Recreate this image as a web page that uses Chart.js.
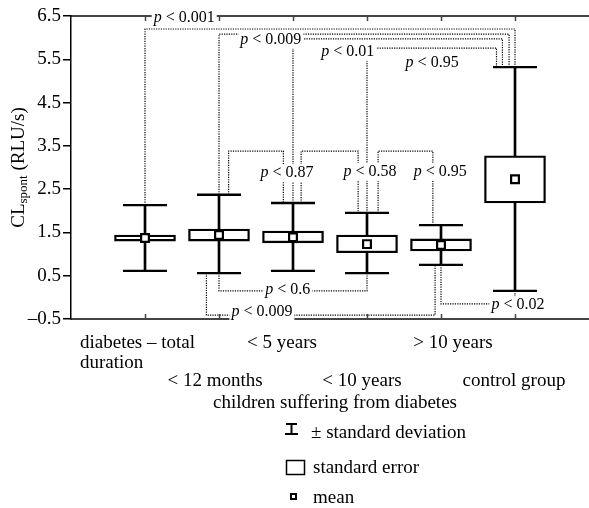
<!DOCTYPE html>
<html>
<head>
<meta charset="utf-8">
<script src="https://cdn.jsdelivr.net/npm/chart.js@4.4.1/dist/chart.umd.min.js"></script>
<style>
  html, body { margin: 0; padding: 0; background: #fff; }
</style>
</head>
<body>
<canvas id="chart" width="589" height="508"></canvas>
<script>
// group labels (first one wraps on two lines)
var groups = [['diabetes – total', 'duration'], ['< 12 months'], ['< 5 years'], ['< 10 years'], ['> 10 years'], ['control group']];
var groupTitle = 'children suffering from diabetes';

// CL spont (RLU/s)
var means  = [1.37, 1.44, 1.39, 1.23, 1.21, 2.73];
var seLow  = [1.30, 1.30, 1.26, 1.03, 1.07, 2.18];
var seHigh = [1.44, 1.58, 1.53, 1.44, 1.35, 3.27];
var sdLow  = [0.61, 0.56, 0.61, 0.56, 0.75, 0.15];
var sdHigh = [2.13, 2.37, 2.18, 1.95, 1.67, 5.32];

var yTicks = [-0.5, 0.5, 1.5, 2.5, 3.5, 4.5, 5.5, 6.5];
var yTickLabels = ['–0.5', '0.5', '1.5', '2.5', '3.5', '4.5', '5.5', '6.5'];

// significance brackets: from group, to group, bracket level, side
var bracketFrom  = [0, 1, 2, 3, 1, 2, 3, 1, 1, 4];
var bracketTo    = [5, 5, 5, 5, 2, 3, 4, 3, 4, 5];
var bracketLevel = [6.20, 6.08, 5.97, 5.76, 3.38, 3.38, 3.38, 0.15, -0.41, -0.15];
var bracketSide  = ['top', 'top', 'top', 'top', 'top', 'top', 'top', 'bottom', 'bottom', 'bottom'];
var pValues = ['p < 0.001', 'p < 0.009', 'p < 0.01', 'p < 0.95', 'p < 0.87', 'p < 0.58', 'p < 0.95', 'p < 0.6', 'p < 0.009', 'p < 0.02'];

var serif = '"Liberation Serif", "Times New Roman", serif';

// where each bracket leg leaves its group (offset from group centre, in group units)
var legShiftFrom = [0, 0, 0, 0, 0.13, 0.11, 0.15, 0, -0.17, 0];
var legShiftTo   = [0, -0.08, -0.17, -0.25, -0.13, -0.12, -0.11, 0, -0.08, 0];
// p label anchors (x in group units, y in data units)
var pAt = [[1.53, 6.45], [2.70, 5.95], [3.74, 5.67], [4.88, 5.41], [2.92, 2.87],
           [4.04, 2.90], [4.99, 2.90], [2.93, 0.17], [2.58, -0.34], [6.04, -0.18]];

var datasets = [];

// dotted brackets
bracketFrom.forEach(function (a, k) {
  var b = bracketTo[k];
  var edge = bracketSide[k] === 'top' ? sdHigh : sdLow;
  var xa = a + 1 + legShiftFrom[k], xb = b + 1 + legShiftTo[k];
  datasets.push({
    type: 'line',
    data: [{x: xa, y: edge[a]}, {x: xa, y: bracketLevel[k]}, {x: xb, y: bracketLevel[k]}, {x: xb, y: edge[b]}],
    borderColor: '#000',
    borderWidth: 1.2,
    borderDash: [1.2, 1.2],
    pointRadius: 0,
    fill: false,
    tension: 0,
    order: 9
  });
});

// SD whisker stem
datasets.push({
  type: 'bar',
  data: groups.map(function (g, i) { return {x: i + 1, y: [sdLow[i], sdHigh[i]]}; }),
  backgroundColor: '#000',
  barThickness: 2,
  grouped: false,
  order: 6
});

// SE box
datasets.push({
  type: 'bar',
  data: groups.map(function (g, i) { return {x: i + 1, y: [seLow[i], seHigh[i]]}; }),
  backgroundColor: '#fff',
  borderColor: '#000',
  borderWidth: 2.3,
  borderSkipped: false,
  barThickness: 61,
  grouped: false,
  order: 4
});

// SD caps
datasets.push({
  type: 'line',
  showLine: false,
  data: groups.map(function (g, i) { return {x: i + 1, y: sdLow[i]}; })
    .concat(groups.map(function (g, i) { return {x: i + 1, y: sdHigh[i]}; })),
  pointStyle: 'line',
  pointRadius: 22,
  borderColor: '#000',
  borderWidth: 2.3,
  order: 5
});

// mean
datasets.push({
  type: 'line',
  showLine: false,
  data: groups.map(function (g, i) { return {x: i + 1, y: means[i]}; }),
  pointStyle: 'rect',
  pointRadius: 5.5,
  backgroundColor: '#fff',
  borderColor: '#000',
  borderWidth: 2.2,
  order: 1
});

function drawP(ctx, text, cx, cy, mask) {
  var rest = text.slice(1);
  ctx.font = 'italic 16px ' + serif;
  var w1 = ctx.measureText('p').width;
  ctx.font = '16px ' + serif;
  var w = w1 + ctx.measureText(rest).width;
  var x0 = cx - w / 2;
  if (mask) {
    ctx.fillStyle = '#fff';
    ctx.fillRect(x0 - 2, cy - 9, w + 4, 18);
  }
  ctx.fillStyle = '#000';
  ctx.textAlign = 'left';
  ctx.textBaseline = 'middle';
  ctx.font = 'italic 16px ' + serif;
  ctx.fillText('p', x0, cy);
  ctx.font = '16px ' + serif;
  ctx.fillText(rest, x0 + w1, cy);
}

var decor = {
  id: 'decor',
  afterDatasetsDraw: function (chart) {
    var ctx = chart.ctx, xs = chart.scales.x, ys = chart.scales.y, area = chart.chartArea;
    ctx.save();
    // inner ticks on top and bottom frame
    ctx.strokeStyle = '#444';
    ctx.lineWidth = 1.5;
    groups.forEach(function (g, i) {
      var px = Math.round(xs.getPixelForValue(i + 1)) + 0.5;
      ctx.beginPath();
      ctx.moveTo(px, area.top); ctx.lineTo(px, area.top + 5);
      ctx.moveTo(px, area.bottom); ctx.lineTo(px, area.bottom - 5);
      ctx.stroke();
    });
    pValues.forEach(function (t, k) {
      drawP(ctx, t, xs.getPixelForValue(pAt[k][0]), ys.getPixelForValue(pAt[k][1]), true);
    });
    ctx.restore();
  },
  afterDraw: function (chart) {
    var ctx = chart.ctx, xs = chart.scales.x, area = chart.chartArea;
    ctx.save();
    ctx.fillStyle = '#000';
    ctx.font = '19px ' + serif;
    ctx.textBaseline = 'middle';

    // category labels, staggered in two rows
    var shift = [-65, -4, -11, -5, 12, -1];
    groups.forEach(function (lines, i) {
      var px = xs.getPixelForValue(i + 1) + shift[i];
      var row = i % 2 === 0 ? 343 : 381;
      ctx.textAlign = i === 0 ? 'left' : 'center';
      lines.forEach(function (l, j) { ctx.fillText(l, px, row + j * 20); });
    });
    ctx.textAlign = 'center';
    ctx.fillText(groupTitle, (xs.getPixelForValue(2) + xs.getPixelForValue(5)) / 2 + 5, 403);

    // y axis title with subscript
    ctx.save();
    ctx.translate(19, (area.top + area.bottom) / 2);
    ctx.rotate(-Math.PI / 2);
    ctx.textAlign = 'left';
    ctx.font = '19px ' + serif;
    var wCL = ctx.measureText('CL').width, wRest = ctx.measureText(' (RLU/s)').width;
    ctx.font = '13px ' + serif;
    var wSub = ctx.measureText('spont').width;
    var x0 = -(wCL + wSub + wRest) / 2;
    ctx.font = '19px ' + serif;
    ctx.fillText('CL', x0, 0);
    ctx.font = '13px ' + serif;
    ctx.fillText('spont', x0 + wCL, 5);
    ctx.font = '19px ' + serif;
    ctx.fillText(' (RLU/s)', x0 + wCL + wSub, 0);
    ctx.restore();

    // legend
    ctx.strokeStyle = '#000';
    ctx.lineWidth = 2;
    ctx.beginPath();
    ctx.moveTo(286, 424); ctx.lineTo(297, 424);
    ctx.moveTo(291.5, 424); ctx.lineTo(291.5, 434);
    ctx.moveTo(285, 434); ctx.lineTo(298, 434);
    ctx.stroke();
    ctx.lineWidth = 1.5;
    ctx.strokeRect(286.5, 460.5, 18, 14);
    ctx.lineWidth = 2;
    ctx.strokeRect(291, 494, 5, 5);
    ctx.textAlign = 'left';
    ctx.font = '19px ' + serif;
    ctx.fillText('± standard deviation', 311, 433);
    ctx.fillText('standard error', 313, 468);
    ctx.fillText('mean', 313, 498);
    ctx.restore();
  }
};

new Chart(document.getElementById('chart').getContext('2d'), {
  type: 'bar',
  data: { datasets: datasets },
  options: {
    responsive: false,
    animation: false,
    events: [],
    layout: { padding: 0, autoPadding: false },
    plugins: { legend: { display: false }, tooltip: { enabled: false } },
    scales: {
      x: {
        type: 'linear', position: 'bottom', min: 0, max: 7, offset: false,
        ticks: { display: false },
        grid: { display: false, offset: false },
        border: { display: true, color: '#444', width: 2 },
        afterFit: function (s) { s.height = 189; }
      },
      xTop: {
        type: 'linear', position: 'top', min: 0, max: 7, offset: false,
        ticks: { display: false },
        grid: { display: false },
        border: { display: true, color: '#444', width: 2 },
        afterFit: function (s) { s.height = 16; }
      },
      y: {
        min: -0.5, max: 6.5,
        afterBuildTicks: function (s) { s.ticks = yTicks.map(function (v) { return {value: v}; }); },
        ticks: {
          color: '#000', padding: 2,
          font: { family: serif, size: 19 },
          callback: function (v, i) { return yTickLabels[i]; }
        },
        grid: { drawOnChartArea: false, tickLength: 8, color: '#000', lineWidth: 1.5 },
        border: { display: true, color: '#000', width: 1.5 },
        afterFit: function (s) { s.width = 71; }
      }
    }
  },
  plugins: [decor]
});
</script>
</body>
</html>
